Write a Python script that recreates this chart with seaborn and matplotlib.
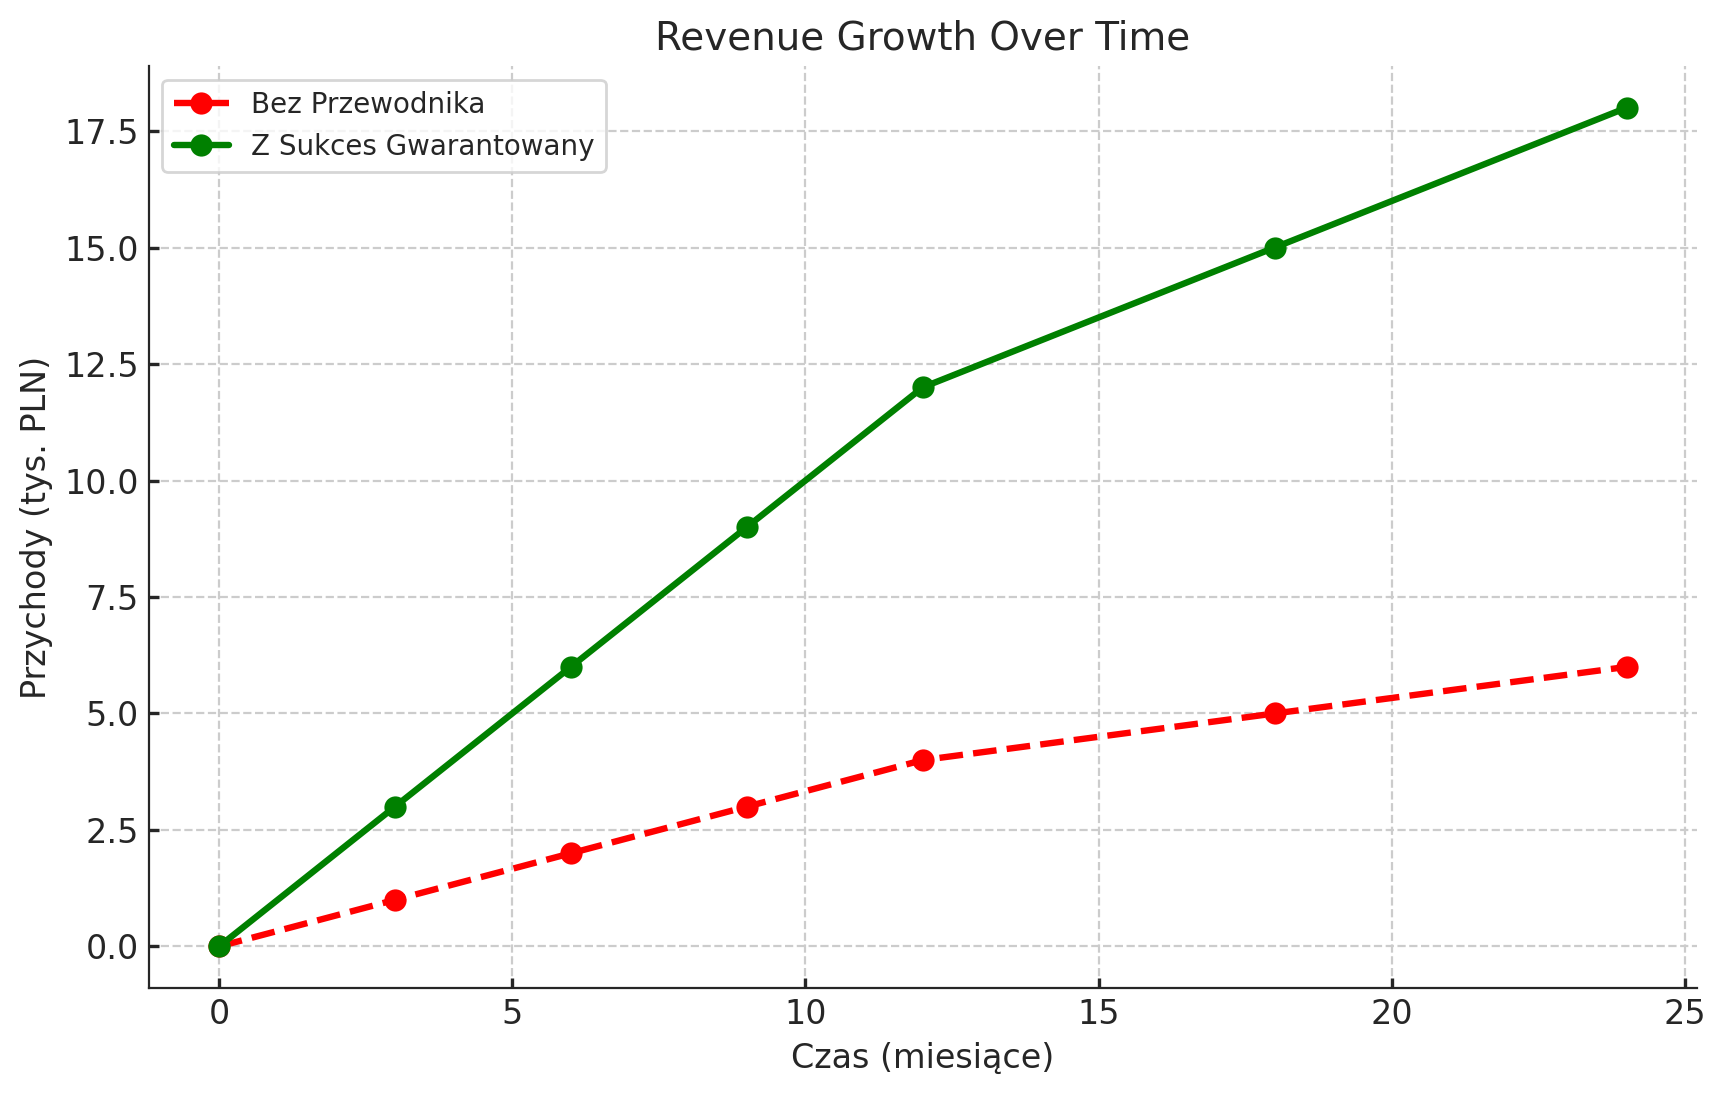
import matplotlib
matplotlib.use("Agg")
import matplotlib.pyplot as plt
import seaborn as sns
import pandas as pd

# dane
miesiace = [0, 3, 6, 9, 12, 18, 24]
bez_przewodnika = [0, 1, 2, 3, 4, 5, 6]
z_sukces = [0, 3, 6, 9, 12, 15, 18]

df = pd.DataFrame({
    "Czas": miesiace,
    "Bez Przewodnika": bez_przewodnika,
    "Z Sukces Gwarantowany": z_sukces,
})

sns.set_style("whitegrid", {"grid.linestyle": "--", "xtick.bottom": True, "ytick.left": True,
                            "axes.edgecolor": "#262626"})

fig, ax = plt.subplots(figsize=(8.64, 5.485), dpi=200)
sns.lineplot(data=df, x="Czas", y="Bez Przewodnika", ax=ax, color="red", linestyle="--",
             marker="o", markersize=8, markeredgewidth=0, linewidth=2.3, label="Bez Przewodnika")
sns.lineplot(data=df, x="Czas", y="Z Sukces Gwarantowany", ax=ax, color="green",
             marker="o", markersize=8, markeredgewidth=0, linewidth=2.3, label="Z Sukces Gwarantowany")
sns.despine()

ax.set_title("Revenue Growth Over Time", fontsize=14)
ax.set_xlabel("Czas (miesiące)", fontsize=12)
ax.set_ylabel("Przychody (tys. PLN)", fontsize=12)
ax.tick_params(labelsize=12, direction="in", length=3.5, width=1.2)
ax.set_xticks([0, 5, 10, 15, 20, 25])
ax.legend(loc="upper left", fontsize=10)

fig.subplots_adjust(left=0.086, right=0.982, top=0.940, bottom=0.099)
plt.savefig("out.png", dpi=200)
